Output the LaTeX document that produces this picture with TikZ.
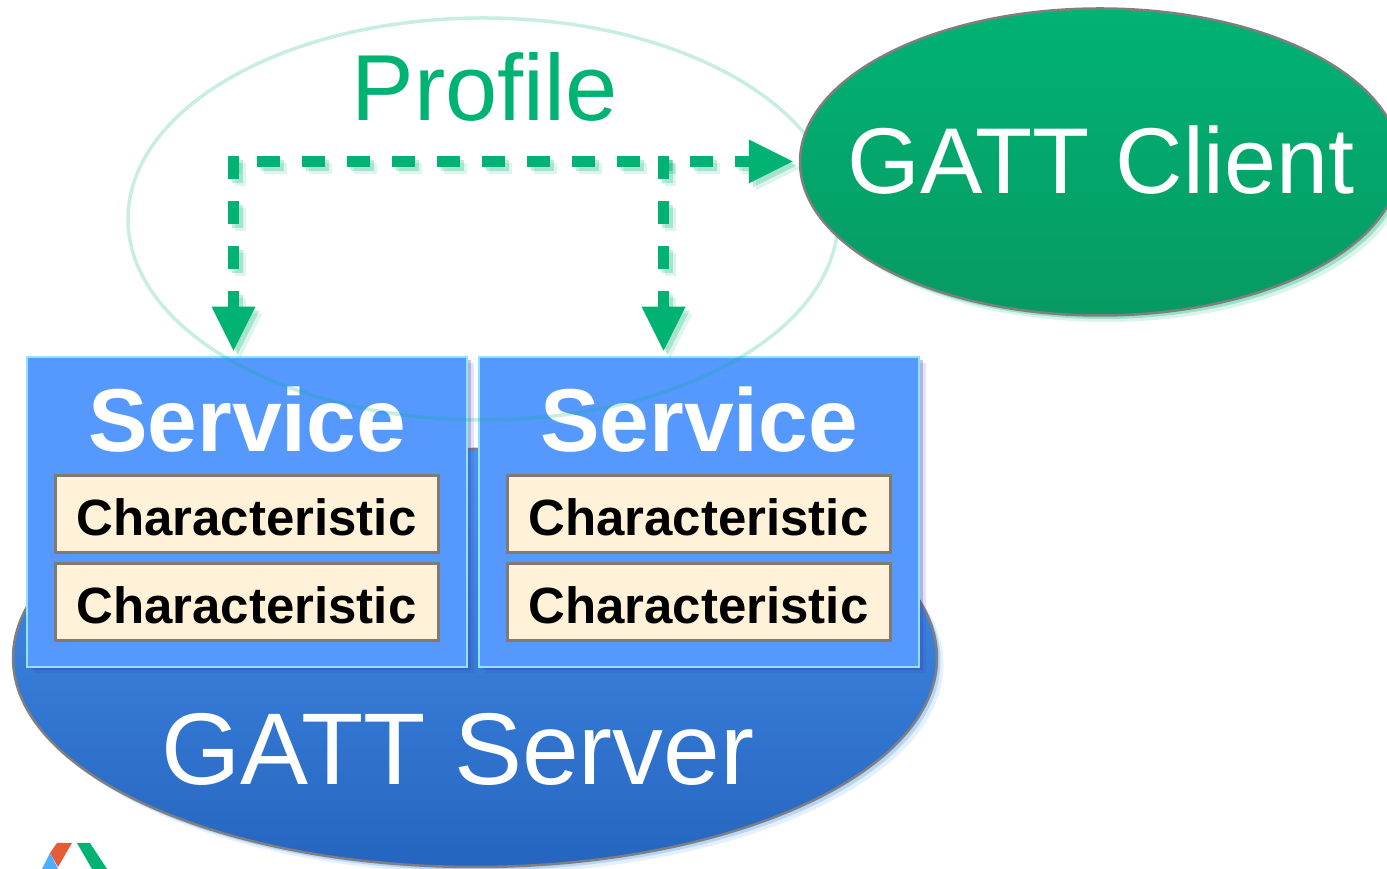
\documentclass[tikz,border=0pt]{standalone}
\usepackage{fontspec}
\setmainfont{Liberation Sans}
\usetikzlibrary{arrows.meta,shapes.geometric}

\definecolor{gattgreen}{HTML}{00B373}
\definecolor{gattgreendark}{HTML}{079A63}
\definecolor{servertop}{HTML}{4A94F0}
\definecolor{serverbottom}{HTML}{2565BF}
\definecolor{svcblue}{HTML}{5599FF}
\definecolor{svcedge}{HTML}{8FE3FA}
\definecolor{charfill}{HTML}{FFF2D9}
\definecolor{charedge}{HTML}{807A70}
\definecolor{edgegray}{HTML}{7F7F7F}

\tikzset{
  softshadow/.style={
    preaction={fill=#1, opacity=.14, transform canvas={shift={(.13,-.13)}}},
    preaction={fill=#1, opacity=.3, transform canvas={shift={(.07,-.07)}}}},
  peer/.style={ellipse, draw=edgegray, line width=.05cm, inner sep=0pt},
  svcbox/.style={rectangle, draw=svcedge, line width=.05cm, fill=svcblue, inner sep=0pt,
    minimum width=8.8cm, minimum height=6.2cm, softshadow=blue!50!gray},
  charbox/.style={rectangle, draw=charedge, line width=.06cm, fill=charfill, inner sep=0pt,
    minimum width=7.66cm, minimum height=1.54cm, text height=.88cm, text depth=.02cm,
    font=\fontsize{29}{29}\selectfont\bfseries},
  svclabel/.style={anchor=base, text=white, inner sep=0pt, font=\fontsize{50.8}{50.8}\selectfont\bfseries},
  biglabel/.style={anchor=base, inner sep=0pt},
  linkstroke/.style={line width=.22cm, dash pattern=on .46cm off .44cm, dash phase=#1},
  dashlink/.style={draw=gattgreen, linkstroke=#1,
    preaction={draw=gattgreen, opacity=.13, linkstroke=#1, transform canvas={shift={(.14,-.14)}}},
    preaction={draw=gattgreen, opacity=.25, linkstroke=#1, transform canvas={shift={(.08,-.08)}}}},
  dashlink/.default=0cm,
  datalink/.style={dashlink=#1, -{Triangle[length=.88cm,width=.88cm,line width=0pt]}},
  datalink/.default=0cm
}

\begin{document}
\begin{tikzpicture}

  \useasboundingbox (0,0) rectangle (27.74,17.38);

  % GATT server
  \node[peer, top color=servertop, bottom color=serverbottom,
        minimum width=18.48cm, minimum height=8.36cm, softshadow=servertop] (server) at (9.5,4.22) {};
  \node[biglabel, text=white, font=\fontsize{58}{58}\selectfont] (serverlabel) at (9.16,1.68) {GATT Server};

  % Service boxes
  \node[svcbox] (svcl) at (4.94,7.14) {};
  \node[svcbox] (svcr) at (13.98,7.14) {};
  \node[svclabel] (svcllabel) at (4.94,8.34) {Service};
  \node[svclabel] (svcrlabel) at (13.98,8.34) {Service};

  % Characteristics
  \node[charbox] (charla) at (4.93,7.09) {Characteristic};
  \node[charbox] (charlb) at (4.93,5.33) {Characteristic};
  \node[charbox] (charra) at (13.97,7.09) {Characteristic};
  \node[charbox] (charrb) at (13.97,5.33) {Characteristic};

  % Profile
  \node[ellipse, draw=gattgreen, draw opacity=.22, line width=.07cm, inner sep=0pt,
        minimum width=14.2cm, minimum height=8.04cm] (profile) at (9.66,13.0) {};
  \node[biglabel, text=gattgreen, font=\fontsize{53.4}{53.4}\selectfont] (profilelabel) at (9.69,14.96) {Profile};

  % GATT client
  \node[peer, top color=gattgreen, bottom color=gattgreendark,
        minimum width=12cm, minimum height=6.14cm, softshadow=gattgreen] (client) at (22,14.14) {};
  \node[biglabel, text=white, font=\fontsize{53.2}{53.2}\selectfont] (clientlabel) at (22.02,13.5) {GATT Client};

  % Links
  \coordinate (cornertop) at (4.67,14.26);
  \coordinate (cornerleft) at (4.56,14.15);
  \coordinate (branchtop) at (13.27,14.26);
  \coordinate (branchleft) at (13.16,14.15);
  \coordinate (branchright) at (13.38,14.15);
  \coordinate (clientend) at (client.west |- branchleft);
  \draw[dashlink=.32cm] (cornerleft) -- (branchright);
  \draw[datalink=.26cm, shorten >=.12cm] (branchleft) -- (clientend);
  \draw[datalink, shorten >=.1cm] (cornertop) -- (cornertop |- svcl.north);
  \draw[datalink, shorten >=.1cm] (branchtop) -- (branchtop |- svcr.north);

  % Logo
  \fill[red!60!orange!75!white!90!black] (1.14,.52) -- (1.44,.52) -- (1.16,.04) -- (1.0,.32) -- cycle;
  \fill[blue!45!cyan!70!white] (.84,0) -- (1.0,.32) -- (1.16,0) -- cycle;
  \fill[gattgreen] (1.54,.52) -- (1.8,.52) -- (2.14,0) -- (1.84,0) -- cycle;

\end{tikzpicture}
\end{document}
